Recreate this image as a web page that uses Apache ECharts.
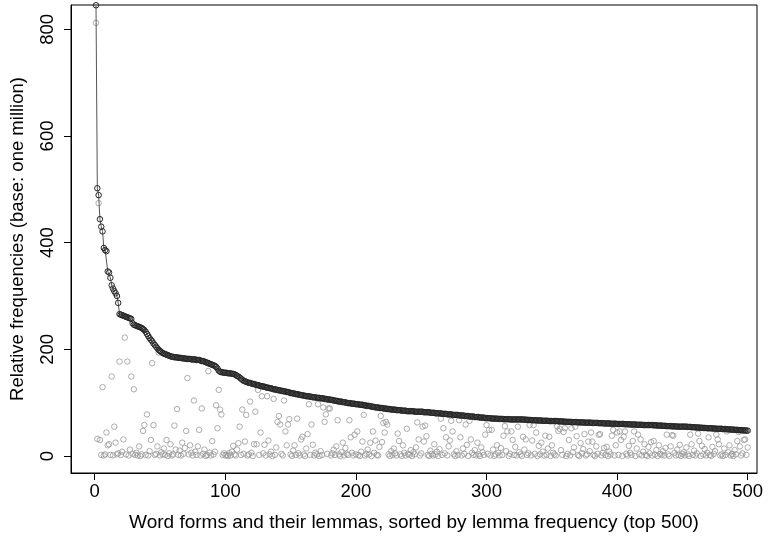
<!DOCTYPE html>
<html><head><meta charset="utf-8">
<script src="https://cdn.jsdelivr.net/npm/echarts@6/dist/echarts.min.js"></script>
<style>html,body{margin:0;padding:0;background:#fff}#c{width:771px;height:538px}</style>
</head><body><div id="c"></div>
<script>
// Lemma frequencies (sorted, dark series), per million, ranks 1..500
var lemmaFreq = [
845,502,489,444,430,421,390,386,384,346,344,334,320,314,309,305,300,287,266,265,
264,263,262,261,260,259,258,257,249,246,245,244,243,242,241,240,238,236,233,229,
225,221,218,215,211,208,205,202,199,197,195,193,192,191,190,189,188,187,186,186,
185,185,185,184,184,184,183,183,183,182,182,182,182,181,181,181,181,180,180,180,
179,178,178,177,176,175,174,173,172,171,170,169,167,164,160,158,157,157,156,156,
156,155,155,155,154,154,153,152,150,149,147,145,143,141,140,139,138,137,137,136,
135,135,134,133,133,132,131,131,130,130,129,128,128,127,127,126,125,125,124,124,
123,123,122,122,121,121,120,120,119,118,118,117,117,116,116,115,115,114,114,113,
113,112,112,112,111,111,110,110,110,109,109,109,108,108,108,107,107,106,106,106,
105,105,104,104,103,103,102,102,102,101,101,100,100,99,99,99,98,98,98,97,
97,97,96,96,96,95,95,94,94,94,93,93,92,92,91,91,91,90,90,90,
89,89,89,88,88,88,87,87,87,87,86,86,86,86,85,85,85,85,84,84,
84,84,84,84,83,83,83,83,83,83,83,82,82,82,82,82,81,81,81,81,
80,80,80,80,80,79,79,79,79,78,78,78,78,77,77,77,77,77,76,76,
76,76,75,75,75,75,74,74,74,74,73,73,73,73,72,72,72,72,71,71,
71,71,70.5,70.5,70,70,70,70,69.5,69.5,69.5,69.5,69,69,69,69,69,68.5,68.5,68.5,
68.5,68.5,68.5,68.5,68.5,68.5,68.5,68.5,68,68,68,67.5,67.5,67.5,67,67,67,67,66.5,66.5,
66.5,66.5,66,66,66,66,66,65.5,65.5,65.5,65.5,65.5,65.5,65.5,65,65,65,64.5,64.5,64.5,
64,64,64,64,63.5,63.5,63.5,63.5,63.5,63,63,63,63,63,62.5,62.5,62.5,62.5,62.5,62.5,
62,62,62,62,62,61.5,61.5,61.5,61.5,61,61,61,61,61,60.5,60.5,60.5,60.5,60.5,60,
60,60,60,60,60,59.5,59.5,59.5,59.5,59,59,59,59,59,58.5,58.5,58.5,58.5,58.5,58,
58,58,58,58,58,58,58,57.5,57.5,57.5,57,57,57,57,56.5,56.5,56.5,56,56,56,
56,55.5,55.5,55.5,55.5,55,55,55,55,55,55,55,55,54.5,54.5,54.5,54,54,54,53.5,
53.5,53.5,53,53,53,52.5,52.5,52.5,52,52,52,52,51.5,51.5,51.5,51,51,51,51,51,
50.5,50.5,50.5,50,50,50,49.5,49.5,49.5,49,49,49,48.5,48.5,48.5,48,48,48,47.5,47.5
];
// Word form frequencies (grey series), same ranks
var formFreq = [
812,32,474,30,2,129,1,3,44,20,22,2,149,1,55,25,3,5,177,2,
8,31,222,3,177,1,12,149,4,125,2,6,1,18,0,3,47,58,2,78,
1,9,30,174,58,2,4,18,194,1,7,3,14,2,30,0,5,22,1,3,
57,12,88,2,10,1,25,4,15,47,146,3,20,6,1,104,8,2,18,49,
1,89,4,12,0,2,159,6,1,28,3,8,95,52,124,87,78,2,5,1,
2,0,5,1,8,19,3,1,12,24,55,2,87,4,27,77,1,3,102,6,
0,22,83,22,124,2,44,112,5,21,1,112,29,3,8,0,107,2,16,64,
75,59,4,1,104,46,20,59,69,3,0,10,20,2,70,5,1,31,36,3,
0,14,41,97,2,59,21,1,6,3,97,0,9,2,91,64,78,4,89,89,
1,5,12,2,18,67,3,0,7,25,1,15,4,2,67,35,6,1,40,3,
46,2,0,8,27,77,1,4,12,3,25,0,46,6,29,2,1,17,75,26,
62,44,64,59,3,0,9,2,14,5,1,42,28,3,0,20,6,1,51,4,
2,11,0,7,3,16,63,31,1,5,55,27,57,37,2,0,10,4,1,22,
3,8,0,13,70,2,52,5,35,1,18,29,66,46,3,0,9,2,67,35,
1,14,4,59,21,0,66,31,6,2,11,1,25,3,0,16,7,2,40,58,
4,49,1,49,12,0,3,20,6,1,15,2,38,56,9,46,0,4,46,30,
2,17,1,55,7,3,0,36,12,31,2,5,58,1,29,58,4,44,0,19,
3,25,8,1,38,2,14,36,0,20,6,3,1,56,47,51,11,2,45,52,
0,4,30,1,52,7,16,55,37,2,0,24,5,13,41,1,3,27,9,44,
27,2,0,18,4,40,41,1,6,15,2,17,0,8,3,38,49,1,20,44,
2,46,30,0,36,46,4,1,19,6,2,28,46,0,14,40,3,31,1,8,
22,2,0,17,5,26,1,28,3,11,0,20,4,2,9,1,15,40,3,0,
18,39,38,6,1,12,2,21,0,4,7,1,16,3,0,40,22,2,10,1,
5,42,28,0,19,3,13,1,6,35,2,0,17,4,9,40,31,22,1,3,
0,14,2,46,7,20,1,4,0,11,3,28,45,18,1,5,30,31,2,16
];
var xTicks = [0,100,200,300,400,500];
var yTicks = [0,200,400,600,800];
if (lemmaFreq.length !== 500 || formFreq.length !== 500) {
  throw new Error('lengths ' + lemmaFreq.length + ' ' + formFreq.length);
}
var ranks = lemmaFreq.map(function(_, i){ return i + 1; });
var lemmaData = ranks.map(function(r, i){ return [r, lemmaFreq[i]]; });
var formData = ranks.map(function(r, i){ return [r, formFreq[i]]; });

var FONT = '"Liberation Sans", Arial, Helvetica, sans-serif';
var chart = echarts.init(document.getElementById('c'), null, {renderer: 'canvas'});
chart.setOption({
  animation: false,
  backgroundColor: '#ffffff',
  grid: {left: 71, top: 5, width: 686, height: 468, show: true, borderColor: '#000', borderWidth: 1, containLabel: false},
  xAxis: {
    type: 'value', min: -18.15, max: 507.1,
    axisLine: {show: true, onZero: false, lineStyle: {color: '#000', width: 1}},
    axisTick: {show: true, length: 7, customValues: xTicks, lineStyle: {color: '#000', width: 1}},
    axisLabel: {customValues: xTicks, fontSize: 18.5, color: '#000', margin: 9, fontFamily: FONT},
    splitLine: {show: false},
    name: 'Word forms and their lemmas, sorted by lemma frequency (top 500)',
    nameLocation: 'middle', nameGap: 40,
    nameTextStyle: {fontSize: 19, color: '#000', fontFamily: FONT}
  },
  yAxis: {
    type: 'value', min: -31.9, max: 845.5,
    axisLine: {show: true, onZero: false, lineStyle: {color: '#000', width: 1}},
    axisTick: {show: true, length: 7, customValues: yTicks, lineStyle: {color: '#000', width: 1}},
    axisLabel: {customValues: yTicks, fontSize: 18.5, color: '#000', margin: 14, rotate: 90, fontFamily: FONT},
    splitLine: {show: false},
    name: 'Relative frequencies (base: one million)',
    nameLocation: 'middle', nameGap: 44, nameRotate: 90,
    nameTextStyle: {fontSize: 18.5, color: '#000', fontFamily: FONT}
  },
  series: [
    {
      name: 'word forms', type: 'scatter', data: formData,
      symbol: 'circle', symbolSize: 5.5,
      itemStyle: {color: 'rgba(0,0,0,0)', borderColor: '#999999', borderWidth: 1},
      z: 2
    },
    {
      name: 'lemmas', type: 'line', data: lemmaData,
      symbol: 'circle', symbolSize: 5.5, showSymbol: true, showAllSymbol: true,
      lineStyle: {color: '#555555', width: 1},
      itemStyle: {color: 'rgba(0,0,0,0)', borderColor: '#262626', borderWidth: 1},
      z: 3
    }
  ]
});
</script>
</body></html>
